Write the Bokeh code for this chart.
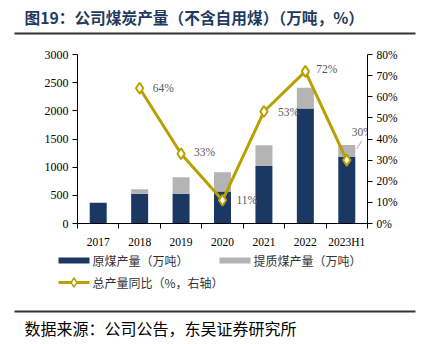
from bokeh.plotting import figure
from bokeh.layouts import column
from bokeh.models import Range1d, LinearAxis, FixedTicker, PrintfTickFormatter
from bokeh.core.properties import value
from bokeh.embed import file_html
from bokeh.resources import INLINE

# ---- data ----
categories = ["2017", "2018", "2019", "2020", "2021", "2022", "2023H1"]
raw_coal = [370, 530, 530, 570, 1020, 2040, 1180]          # 原煤产量（万吨）
upgraded_coal = [0, 80, 290, 340, 370, 370, 215]           # 提质煤产量（万吨）
yoy_pct = [None, 64, 33, 11, 53, 72, 30]                   # 总产量同比（%）
left_ticks = [0, 500, 1000, 1500, 2000, 2500, 3000]
right_ticks = [0, 10, 20, 30, 40, 50, 60, 70, 80]

title_text = "图19：公司煤炭产量（不含自用煤）（万吨，%）"
source_text = "数据来源：公司公告，东吴证券研究所"
legend_labels = ["原煤产量（万吨）", "提质煤产量（万吨）", "总产量同比（%，右轴）"]

NAVY = "#1a3862"
GRAY = "#b4b4b4"
GOLD = "#b9a000"
SERIF = value("Liberation Serif")
CJK = value("Noto Sans CJK SC")
W = 427


def pix_fig(h):
    f = figure(width=W, height=h, x_range=Range1d(0, W), y_range=Range1d(h, 0),
               output_backend="svg", toolbar_location=None,
               x_axis_type=None, y_axis_type=None,
               min_border_left=0, min_border_right=0, min_border_top=0, min_border_bottom=0)
    f.grid.visible = False
    f.outline_line_color = None
    f.frame_align = False
    return f


# ---- title ----
t = pix_fig(36)
t.text(x=[24], y=[17], text=[title_text], text_font=CJK, text_font_size="15.7px",
       text_font_style="bold", text_color="#1f3a60", text_baseline="middle", text_align="left")
t.segment(x0=[14], y0=[33], x1=[415], y1=[33], line_color="#333333", line_width=2)

# ---- main chart ----
x = list(range(len(categories)))
p = figure(width=W, height=214, x_range=Range1d(-0.5, len(categories) - 0.5),
           y_range=Range1d(0, 3000), output_backend="svg", toolbar_location=None,
           x_axis_type=None, y_axis_type=None,
           min_border_left=77, min_border_right=60, min_border_top=18, min_border_bottom=24)
p.frame_align = False
p.extra_y_ranges = {"pct": Range1d(0, 80)}
p.grid.visible = False
p.outline_line_color = None

totals = [r + u for r, u in zip(raw_coal, upgraded_coal)]
p.vbar(x=x, top=raw_coal, width=0.41, fill_color=NAVY, line_color=None)
p.vbar(x=x, bottom=raw_coal, top=totals, width=0.41, fill_color=GRAY, line_color=None)

lx = [xi for xi, v in zip(x, yoy_pct) if v is not None]
ly = [v for v in yoy_pct if v is not None]
p.line(lx, ly, y_range_name="pct", line_color=GOLD, line_width=3)
p.scatter(lx, ly, y_range_name="pct", marker="diamond", size=11,
          fill_color="white", line_color=GOLD, line_width=2)

# data labels (offsets in pixels)
dx = [13, 13, 14, 14, 11, 5]
dy = [0, -2, 0, 0, -2, -28]
for xi, v, ox, oy in zip(lx, ly, dx, dy):
    p.text(x=[xi], y=[v], text=[f"{v}%"], y_range_name="pct", x_offset=ox, y_offset=oy,
           text_font=SERIF, text_font_size="11.5px", text_color="#595959",
           text_baseline="middle", text_align="left")
# leader line for last label
last_x, last_v = lx[-1], ly[-1]
p.segment(x0=[last_x + 0.24], y0=[last_v + 5.3], x1=[last_x + 0.36], y1=[last_v + 9.1],
          y_range_name="pct", line_color="#a6a6a6", line_width=1)

xaxis = LinearAxis(ticker=FixedTicker(ticks=x, minor_ticks=[i - 0.5 for i in range(len(x) + 1)]),
                   major_label_overrides={i: c for i, c in enumerate(categories)})
xaxis.major_tick_out = 0
xaxis.major_tick_in = 0
xaxis.minor_tick_out = 5
xaxis.minor_tick_in = 0
xaxis.major_label_standoff = 7
p.add_layout(xaxis, "below")

yl = LinearAxis(ticker=FixedTicker(ticks=left_ticks, minor_ticks=[]))
yl.major_tick_out = 5
yl.major_tick_in = 0
yl.minor_tick_out = 0
yl.major_label_standoff = 4
p.add_layout(yl, "left")

yr = LinearAxis(y_range_name="pct", ticker=FixedTicker(ticks=right_ticks, minor_ticks=[]),
                formatter=PrintfTickFormatter(format="%d%%"))
yr.major_tick_out = 5
yr.major_tick_in = 0
yr.minor_tick_out = 0
yr.major_label_standoff = 4
p.add_layout(yr, "right")

for ax in (xaxis, yl, yr):
    ax.axis_line_color = "black"
    ax.axis_line_width = 1
    ax.major_tick_line_color = "black"
    ax.minor_tick_line_color = "black"
    ax.major_label_text_font = "Liberation Serif"
    ax.major_label_text_font_size = "11.5px"
    ax.major_label_text_color = "black"
yl.major_label_text_font_size = "12px"

# ---- legend ----
lg = pix_fig(50)
lg.rect(x=[73.5, 234.5], y=[10, 10], width=31, height=6, fill_color=[NAVY, GRAY], line_color=None)
lg.text(x=[92, 253], y=[10, 10], text=legend_labels[:2], text_font=CJK, text_font_size="12px",
        text_color="#333333", text_baseline="middle", text_align="left")
lg.segment(x0=[58], y0=[32], x1=[89], y1=[32], line_color=GOLD, line_width=3)
lg.scatter(x=[73.5], y=[32], marker="diamond", size=9, fill_color="white", line_color=GOLD, line_width=1.5)
lg.text(x=[92], y=[32], text=[legend_labels[2]], text_font=CJK, text_font_size="12px",
        text_color="#333333", text_baseline="middle", text_align="left")

# ---- source ----
s = pix_fig(44)
s.segment(x0=[14], y0=[11], x1=[415], y1=[11], line_color="#333333", line_width=2)
s.text(x=[24], y=[27], text=[source_text], text_font=CJK, text_font_size="16px",
       text_color="black", text_baseline="middle", text_align="left")

layout = column(t, p, lg, s, spacing=0)
open("out.html", "w").write(file_html(layout, INLINE))
